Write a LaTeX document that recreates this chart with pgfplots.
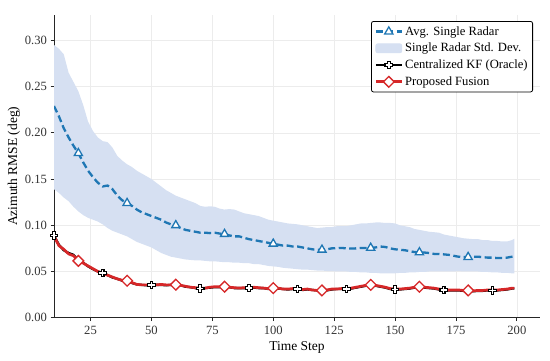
\documentclass[border=0pt]{standalone}
\usepackage{fontspec}
\setmainfont{Liberation Serif}
\usepackage{pgfplots}
\pgfplotsset{compat=1.18}
\usepackage{pgfplotstable}
\usepgfplotslibrary{fillbetween}
\definecolor{blueC}{RGB}{31,119,180}
\definecolor{redC}{RGB}{214,39,40}
\definecolor{bandc}{RGB}{214,224,242}
\pgfdeclareplotmark{fatplus}{%
  \pgfpathmoveto{\pgfpoint{-0.33\pgfplotmarksize}{\pgfplotmarksize}}%
  \pgfpathlineto{\pgfpoint{0.33\pgfplotmarksize}{\pgfplotmarksize}}%
  \pgfpathlineto{\pgfpoint{0.33\pgfplotmarksize}{0.33\pgfplotmarksize}}%
  \pgfpathlineto{\pgfpoint{\pgfplotmarksize}{0.33\pgfplotmarksize}}%
  \pgfpathlineto{\pgfpoint{\pgfplotmarksize}{-0.33\pgfplotmarksize}}%
  \pgfpathlineto{\pgfpoint{0.33\pgfplotmarksize}{-0.33\pgfplotmarksize}}%
  \pgfpathlineto{\pgfpoint{0.33\pgfplotmarksize}{-\pgfplotmarksize}}%
  \pgfpathlineto{\pgfpoint{-0.33\pgfplotmarksize}{-\pgfplotmarksize}}%
  \pgfpathlineto{\pgfpoint{-0.33\pgfplotmarksize}{-0.33\pgfplotmarksize}}%
  \pgfpathlineto{\pgfpoint{-\pgfplotmarksize}{-0.33\pgfplotmarksize}}%
  \pgfpathlineto{\pgfpoint{-\pgfplotmarksize}{0.33\pgfplotmarksize}}%
  \pgfpathlineto{\pgfpoint{-0.33\pgfplotmarksize}{0.33\pgfplotmarksize}}%
  \pgfpathclose
  \pgfusepathqfillstroke
}
\pgfplotstableread{
x avg up lo kf prop
10 0.229 0.295 0.139 0.089 0.088
12 0.218 0.291 0.135 0.079 0.078
14 0.205 0.285 0.130 0.073 0.074
16 0.195 0.265 0.126 0.070 0.069
18 0.186 0.255 0.120 0.068 0.067
20 0.178 0.245 0.115 0.062 0.0615
22 0.168 0.230 0.111 0.0595 0.059
24 0.159 0.212 0.108 0.0555 0.056
26 0.152 0.202 0.106 0.0525 0.053
28 0.146 0.195 0.104 0.050 0.050
30 0.142 0.191 0.101 0.0485 0.048
32 0.143 0.190 0.097 0.046 0.046
34 0.139 0.184 0.094 0.0435 0.044
36 0.132 0.175 0.092 0.042 0.042
38 0.127 0.170 0.090 0.040 0.0405
40 0.124 0.166 0.088 0.0395 0.040
42 0.121 0.163 0.085 0.0375 0.038
44 0.117 0.159 0.082 0.036 0.036
46 0.114 0.156 0.080 0.0355 0.0355
48 0.112 0.153 0.078 0.035 0.0355
50 0.110 0.150 0.076 0.0355 0.0358
52 0.108 0.146 0.073 0.0355 0.0355
54 0.106 0.142 0.070 0.0355 0.036
56 0.103 0.138 0.068 0.035 0.0355
58 0.101 0.135 0.066 0.0355 0.0355
60 0.100 0.132 0.065 0.0355 0.0357
62 0.097 0.130 0.064 0.035 0.035
64 0.095 0.128 0.063 0.0335 0.034
66 0.094 0.126 0.0625 0.033 0.033
68 0.093 0.124 0.062 0.032 0.0325
70 0.092 0.121 0.062 0.0315 0.032
72 0.092 0.120 0.0615 0.032 0.032
74 0.0915 0.1205 0.061 0.0325 0.033
76 0.092 0.120 0.061 0.033 0.0335
78 0.091 0.118 0.0605 0.033 0.0335
80 0.0905 0.117 0.060 0.033 0.0335
82 0.089 0.1175 0.060 0.033 0.033
84 0.088 0.117 0.0595 0.032 0.0325
86 0.088 0.115 0.0595 0.032 0.032
88 0.0865 0.113 0.059 0.032 0.0325
90 0.085 0.112 0.059 0.032 0.032
92 0.084 0.111 0.058 0.0325 0.033
94 0.083 0.110 0.058 0.032 0.0325
96 0.082 0.108 0.057 0.032 0.032
98 0.081 0.106 0.056 0.031 0.0315
100 0.080 0.105 0.0555 0.0315 0.032
102 0.079 0.104 0.055 0.0315 0.032
104 0.078 0.103 0.054 0.031 0.031
106 0.078 0.102 0.0535 0.0305 0.031
108 0.077 0.1015 0.053 0.031 0.0315
110 0.077 0.101 0.0525 0.031 0.031
112 0.076 0.100 0.052 0.030 0.0305
114 0.075 0.099 0.052 0.0305 0.031
116 0.074 0.098 0.0515 0.030 0.030
118 0.0735 0.097 0.051 0.0295 0.0295
120 0.0735 0.0975 0.051 0.029 0.0295
122 0.074 0.098 0.0505 0.0295 0.030
124 0.075 0.098 0.0505 0.0305 0.031
126 0.0752 0.099 0.050 0.031 0.031
128 0.0755 0.099 0.050 0.031 0.0315
130 0.075 0.099 0.050 0.031 0.0315
132 0.0748 0.100 0.0495 0.0315 0.032
134 0.075 0.101 0.0495 0.0325 0.033
136 0.0755 0.102 0.049 0.0335 0.034
138 0.0755 0.102 0.049 0.0345 0.035
140 0.0755 0.1025 0.0485 0.035 0.0355
142 0.076 0.103 0.0485 0.0345 0.035
144 0.077 0.103 0.048 0.0335 0.034
146 0.0765 0.1025 0.048 0.0325 0.033
148 0.075 0.1025 0.048 0.031 0.0315
150 0.074 0.102 0.048 0.0305 0.031
152 0.0735 0.100 0.0485 0.0305 0.031
154 0.073 0.099 0.0485 0.031 0.0315
156 0.072 0.098 0.049 0.0315 0.032
158 0.071 0.096 0.049 0.0325 0.033
160 0.0707 0.095 0.0495 0.033 0.0335
162 0.0705 0.094 0.0495 0.0325 0.033
164 0.070 0.093 0.050 0.032 0.0325
166 0.069 0.0925 0.050 0.0315 0.032
168 0.069 0.092 0.050 0.0305 0.031
170 0.0685 0.090 0.050 0.030 0.0305
172 0.068 0.089 0.050 0.0295 0.030
174 0.067 0.088 0.050 0.0295 0.030
176 0.066 0.087 0.0505 0.0295 0.030
178 0.0655 0.086 0.050 0.029 0.0295
180 0.0656 0.0855 0.050 0.029 0.0295
182 0.066 0.085 0.050 0.0285 0.029
184 0.066 0.085 0.050 0.029 0.0295
186 0.0655 0.084 0.0495 0.029 0.0295
188 0.065 0.084 0.0495 0.0295 0.030
190 0.065 0.083 0.049 0.0295 0.030
192 0.0645 0.083 0.049 0.0295 0.030
194 0.0645 0.0825 0.0485 0.030 0.0305
196 0.065 0.0825 0.0485 0.0305 0.031
198 0.066 0.084 0.048 0.0315 0.032
199 0.0663 0.0855 0.048 0.0315 0.032
}\data
\begin{document}
\begin{tikzpicture}
\begin{axis}[
  at={(54pt,43.3pt)}, anchor=south west,
  scale only axis, width=486pt, height=302.7pt,
  xmin=10, xmax=209.5, ymin=0, ymax=0.3275,
  axis x line*=bottom, axis y line*=left,
  axis line style={-, line width=1pt, black!85},
  xtick={25,50,75,100,125,150,175,200},
  ytick={0,0.05,0.10,0.15,0.20,0.25,0.30},
  scaled y ticks=false,
  yticklabel style={/pgf/number format/fixed, /pgf/number format/precision=2, /pgf/number format/fixed zerofill},
  /pgf/number format/assume math mode=true,
  tick align=outside, major tick length=3.5pt,
  tick style={black!85, line width=0.8pt},
  ticklabel style={font=\fontsize{12.6}{14}\selectfont, text=black!80},
  xticklabel style={yshift=-1.5pt},
  grid=major, grid style={gray!15, line width=0.5pt},
  xlabel={Time Step}, ylabel={Azimuth RMSE (deg)},
  label style={font=\fontsize{13.5}{15}\selectfont},
  xlabel style={at={(axis description cs:0.5,-0.097)}, anchor=center},
  ylabel style={at={(axis description cs:-0.0823,0.5)}, anchor=center},
  legend style={at={(rel axis cs:0.9856,0.980)}, anchor=north east, draw=black, rounded corners=2pt, fill=white, line width=0.8pt,
    font=\fontsize{12.6}{14}\selectfont, row sep=2.5pt, inner xsep=3pt, inner ysep=3pt},
  legend cell align=left,
  legend image code/.code={\draw[#1, mark indices={2}] plot coordinates {(0pt,0pt) (13pt,0pt) (26pt,0pt)};},
]
\addplot[name path=up, draw=none, forget plot] table[x=x,y=up]{\data};
\addplot[name path=lo, draw=none, forget plot] table[x=x,y=lo]{\data};
\addplot[bandc, forget plot] fill between[of=up and lo];
\addplot[blueC, line width=2.3pt, dash pattern=on 7pt off 3.5pt, mark=triangle*, mark size=4.7pt,
  mark indices={6,16,26,36,46,56,66,76,86}, mark options={solid, fill=white, line width=1.3pt}]
  table[x=x,y=avg]{\data};
\addlegendentry{Avg. Single Radar}
\addlegendimage{legend image code/.code={\fill[bandc] (0pt,-4.5pt) rectangle (26pt,4.5pt);}}
\addlegendentry{Single Radar Std. Dev.}
\addplot[black, line width=2.3pt, mark=fatplus, mark size=3.8pt,
  mark indices={1,11,21,31,41,51,61,71,81,91}, mark options={fill=white, line width=1.1pt}]
  table[x=x,y=kf]{\data};
\addlegendentry{Centralized KF (Oracle)}
\addplot[redC, line width=2.7pt, mark=square*, mark size=3.8pt,
  mark indices={6,16,26,36,46,56,66,76,86}, mark options={rotate=45, fill=white, line width=1.3pt}]
  table[x=x,y=prop]{\data};
\addlegendentry{Proposed Fusion}
\end{axis}
\pgfresetboundingbox
\path[use as bounding box] (0,0) rectangle (550pt,361pt);
\end{tikzpicture}
\end{document}
